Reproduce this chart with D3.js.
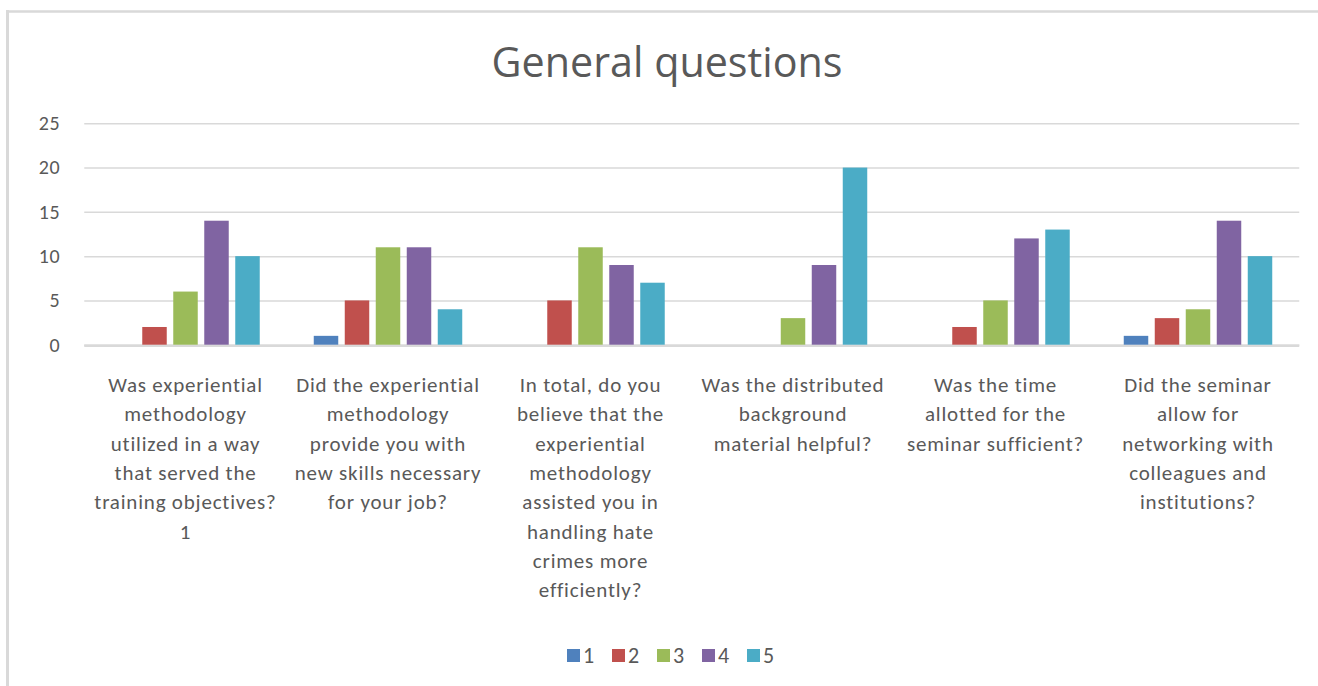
<!DOCTYPE html>
<html>
<head>
<meta charset="utf-8">
<script src="https://cdn.jsdelivr.net/npm/d3@7/dist/d3.min.js"></script>
<style>
  html, body { margin: 0; padding: 0; background: #ffffff; }
  svg { display: block; }
  text { font-family: Carlito, Lato, "Open Sans", sans-serif; fill: #595959; }
</style>
</head>
<body>
<svg id="chart" width="1318" height="686"></svg>
<script>
// Survey answers (ratings 1–5) per question
const categories = [
  ["Was experiential", "methodology", "utilized in a way", "that served the", "training objectives?", "1"],
  ["Did the experiential", "methodology", "provide you with", "new skills necessary", "for your job?"],
  ["In total, do you", "believe that the", "experiential", "methodology", "assisted you in", "handling hate", "crimes more", "efficiently?"],
  ["Was the distributed", "background", "material helpful?"],
  ["Was the time", "allotted for the", "seminar sufficient?"],
  ["Did the seminar", "allow for", "networking with", "colleagues and", "institutions?"]
];
const seriesNames = ["1", "2", "3", "4", "5"];
const values1 = [0, 1, 0, 0, 0, 1];
const values2 = [2, 5, 5, 0, 2, 3];
const values3 = [6, 11, 11, 3, 5, 4];
const values4 = [14, 11, 9, 9, 12, 14];
const values5 = [10, 4, 7, 20, 13, 10];
const seriesValues = [values1, values2, values3, values4, values5];
const colors = ["#4F81BD", "#C0504D", "#9BBB59", "#8064A2", "#4BACC6"];
const yTicks = [0, 5, 10, 15, 20, 25];
const title = "General questions";

const svg = d3.select("#chart");

// frame lines (top and left edges)
svg.append("line").attr("x1", 6).attr("x2", 1318).attr("y1", 11.5).attr("y2", 11.5)
  .attr("stroke", "#d9d9d9").attr("stroke-width", 2.5);
svg.append("line").attr("x1", 7.5).attr("x2", 7.5).attr("y1", 10).attr("y2", 686)
  .attr("stroke", "#d9d9d9").attr("stroke-width", 3);

const plot = { left: 84.25, right: 1299.25, top: 123.3, bottom: 344.7 };

const x0 = d3.scaleBand()
  .domain(d3.range(categories.length))
  .range([plot.left, plot.right])
  .paddingInner(0.2346)
  .paddingOuter(0.1173);

const x1 = d3.scaleBand()
  .domain(d3.range(seriesNames.length))
  .range([0, x0.bandwidth()])
  .paddingInner(0.21)
  .paddingOuter(0.105);

const y = d3.scaleLinear().domain([0, 25]).range([plot.bottom, plot.top]);

// title
const t = svg.append("text")
  .attr("x", 667).attr("y", 77)
  .attr("text-anchor", "middle")
  .style("font-family", "'Open Sans', Lato, sans-serif")
  .style("font-size", "42px")
  .text(title);
const tw = t.node().getComputedTextLength();
t.style("font-size", (42 * 351 / tw) + "px");

// gridlines + y axis labels
const yAxis = d3.axisLeft(y).tickValues(yTicks)
  .tickSize(-(plot.right - plot.left)).tickPadding(24);
const gy = svg.append("g").attr("transform", `translate(${plot.left},0)`).call(yAxis);
gy.select(".domain").remove();
gy.selectAll(".tick line").attr("stroke", "#d9d9d9").attr("stroke-width", 1.5);
gy.selectAll(".tick text")
  .style("font-size", "20px").style("letter-spacing", "0.6px").attr("fill", "#595959");

// baseline
svg.append("line")
  .attr("x1", plot.left).attr("x2", plot.right)
  .attr("y1", y(0) + 1).attr("y2", y(0) + 1)
  .attr("stroke", "#d9d9d9").attr("stroke-width", 2.5);

// bars
const groups = svg.append("g").selectAll("g")
  .data(categories.map((c, i) => i))
  .join("g")
  .attr("transform", i => `translate(${x0(i)},0)`);

groups.selectAll("rect")
  .data(i => seriesValues.map((vals, s) => ({ s, v: vals[i] })))
  .join("rect")
  .attr("x", d => x1(d.s))
  .attr("width", x1.bandwidth())
  .attr("y", d => y(d.v))
  .attr("height", d => y(0) - y(d.v))
  .attr("fill", d => colors[d.s]);

// category labels
const lineH = 29.3;
const labels = svg.append("g").selectAll("text")
  .data(categories)
  .join("text")
  .attr("text-anchor", "middle")
  .style("font-size", "21px")
  .style("letter-spacing", "0.8px")
  .attr("transform", (d, i) => `translate(${x0(i) + x0.bandwidth() / 2},392)`);
labels.selectAll("tspan")
  .data(d => d)
  .join("tspan")
  .attr("x", 0)
  .attr("y", (d, k) => k * lineH)
  .text(d => d);

// legend
const legend = svg.append("g").selectAll("g")
  .data(seriesNames)
  .join("g")
  .attr("transform", (d, i) => `translate(${567 + i * 45},649)`);
legend.append("rect").attr("width", 13).attr("height", 13)
  .attr("fill", (d, i) => colors[i]);
legend.append("text").attr("x", 16).attr("y", 14)
  .style("font-size", "22px")
  .text(d => d);
</script>
</body>
</html>
